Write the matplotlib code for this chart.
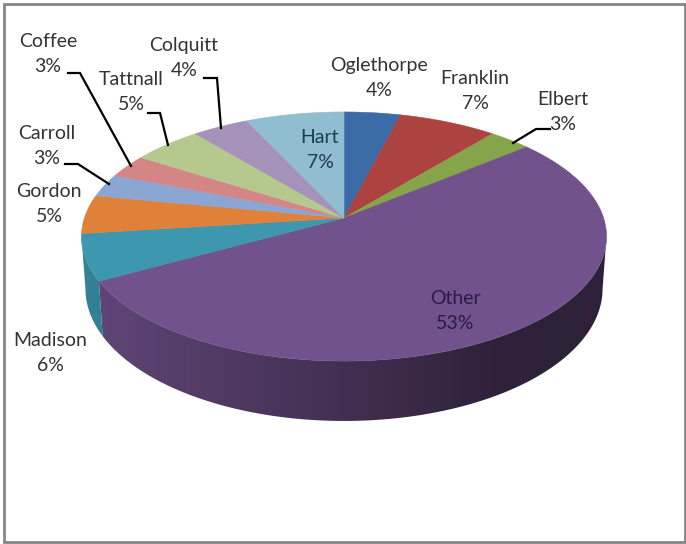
import matplotlib
matplotlib.use('Agg')
import matplotlib.pyplot as plt
import numpy as np

names = ['Oglethorpe', 'Franklin', 'Elbert', 'Other', 'Madison', 'Gordon',
         'Carroll', 'Coffee', 'Tattnall', 'Colquitt', 'Hart']
percents = [4, 7, 3, 53, 6, 5, 3, 3, 5, 4, 7]
colors = ['#3c6ca8', '#ad4340', '#86a44a', '#71528c', '#3d97ae', '#e0813a',
          '#8ba6d3', '#d48686', '#b5c98e', '#a592bb', '#90bdd0']

# label centres in pixels, text colour
label_pos = [(379, 78), (475, 91), (563, 112), (455, 311), (50, 353), (49, 204),
             (47, 146), (48, 54), (131, 92), (184, 58), (320, 150)]
label_col = ['#333333'] * 11
label_col[3] = '#2a1a45'
label_col[10] = '#1f3c4f'

leaders = [
    [(68, 73), (80, 73), (131, 166)],
    [(204, 78), (217, 78), (221, 128)],
    [(148, 113), (160, 113), (168, 145)],
    [(65, 164), (78, 164), (109, 184)],
    [(513, 143), (536, 129), (550, 129)],
]

CX, CY = 344, 218
K = 0.1486
A, B = 121.8, 259.6
DEPTH = 51
# the widest points of the tilted disc, where the wall starts and ends
WALL_FROM = np.degrees(np.arccos(-K))
WALL_TO = 360 - WALL_FROM


def project(deg):
    # pie angle, clockwise from the top, to pixel on the tilted top face
    t = np.radians(deg)
    u, v = np.sin(t), np.cos(t)
    w = 1 + K * v
    return CX + B * u / w, CY - A * v / w, w


def bottom(deg):
    x, y, w = project(deg)
    return CX + (x - CX) * 0.985, y + DEPTH / w


fig, ax = plt.subplots(figsize=(6.86, 5.44), dpi=100)
fig.subplots_adjust(0, 0, 1, 1)
ax.set_xlim(0, 686)
ax.set_ylim(544, 0)
ax.axis('off')

ax.add_patch(plt.Rectangle((3.5, 4), 681, 538, facecolor='white', edgecolor='#858585', linewidth=2))

edges = np.concatenate([[0], np.cumsum(percents)]) * 3.6

# side walls: a left to right gradient clipped to each front slice
grad_x = np.linspace(70, 620, 550)
grad = np.interp(grad_x, [85, 100, 343, 500, 610], [0.86, 0.84, 0.58, 0.41, 0.40])
for i in range(len(percents)):
    a0, a1 = max(edges[i], WALL_FROM), min(edges[i + 1], WALL_TO)
    if a0 >= a1:
        continue
    angles = np.linspace(a0, a1, 200)
    x, y, _ = project(angles)
    bx, by = bottom(angles)
    wall = plt.Polygon(np.c_[np.r_[x, bx[::-1]], np.r_[y, by[::-1]]], facecolor='none', edgecolor='none')
    ax.add_patch(wall)
    base = np.array(matplotlib.colors.to_rgb(colors[i]))
    img = ax.imshow(base[None, None, :] * grad[None, :, None], extent=(70, 620, 500, 100),
                    aspect='auto', zorder=2, interpolation='bilinear')
    img.set_clip_path(wall)
ax.set_xlim(0, 686)
ax.set_ylim(544, 0)

# top face
for i in range(len(percents)):
    angles = np.linspace(edges[i], edges[i + 1], 80)
    x, y, _ = project(angles)
    ax.fill(np.r_[CX, x], np.r_[CY, y], facecolor=colors[i], edgecolor=colors[i], linewidth=0.4, zorder=3)

for pts in leaders:
    xs, ys = zip(*pts)
    ax.plot(xs, ys, color='black', linewidth=1.6, solid_joinstyle='miter', zorder=4)

for name, pct, (x, y), col in zip(names, percents, label_pos, label_col):
    ax.text(x, y, f'{name}\n{pct}%', ha='center', va='center', ma='center', color=col,
            fontsize=14, family='Lato', linespacing=1.6, zorder=5)

fig.savefig('out.png', dpi=100)
plt.close(fig)
